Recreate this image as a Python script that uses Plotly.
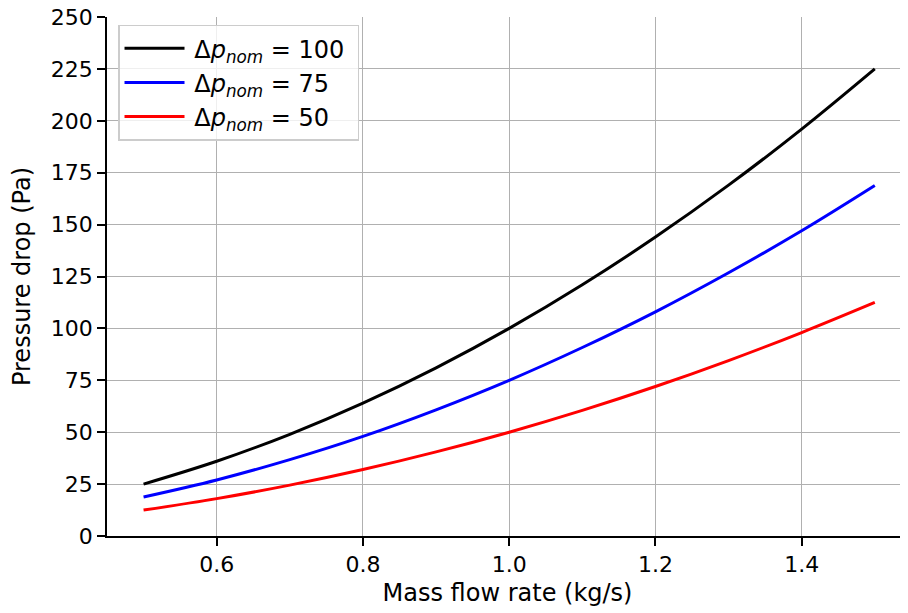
import plotly.graph_objects as go

mass_flow = [0.5, 0.6, 0.7, 0.8, 0.9, 1.0, 1.1, 1.2, 1.3, 1.4, 1.5]
dp_100 = [25, 36, 49, 64, 81, 100, 121, 144, 169, 196, 225]
dp_75 = [18.8, 27, 36.8, 48, 60.8, 75, 90.8, 108, 126.8, 147, 168.8]
dp_50 = [12.5, 18, 24.5, 32, 40.5, 50, 60.5, 72, 84.5, 98, 112.5]
labels = ["\u2009Δ<i>p</i><sub><i>nom</i></sub> = 100\u00a0",
          "\u2009Δ<i>p</i><sub><i>nom</i></sub> = 75",
          "\u2009Δ<i>p</i><sub><i>nom</i></sub> = 50"]
colors = ["#000000", "#0000ff", "#ff0000"]
y_ticks = [0, 25, 50, 75, 100, 125, 150, 175, 200, 225, 250]
x_ticks = [0.6, 0.8, 1.0, 1.2, 1.4]
x_tick_text = ["0.6", "0.8", "1.0", "1.2", "1.4"]

FONT = "DejaVu Sans"
fig = go.Figure()
for i, (ys, name, c) in enumerate(zip([dp_100, dp_75, dp_50], labels, colors)):
    fig.add_trace(go.Scatter(x=mass_flow, y=ys, mode="lines", name=name,
                             legendgroup=f"g{i}",
                             line=dict(color=c, width=3, shape="spline")))

fig.update_layout(
    width=908, height=613,
    margin=dict(l=99, r=8, t=9, b=85, autoexpand=False),
    plot_bgcolor="white", paper_bgcolor="white",
    font=dict(family=FONT, size=22, color="black"),
    showlegend=True,
    legend=dict(x=0.014, y=0.985, xanchor="left", yanchor="top",
                bgcolor="rgba(255,255,255,0.8)", bordercolor="#cccccc", borderwidth=1.3,
                font=dict(family=FONT, size=24), tracegroupgap=0,
                itemwidth=60),
    xaxis=dict(range=[0.45, 1.5454], tickvals=x_ticks, ticktext=x_tick_text,
               showgrid=True, gridcolor="#b0b0b0", gridwidth=1.3,
               ticks="outside", ticklen=8, tickwidth=1.5, tickcolor="black",
               showline=True, linecolor="black", linewidth=1.5, mirror=False,
               zeroline=False, ticklabeloverflow="allow", automargin=False,
               title=dict(text="Mass flow rate (kg/s)", font=dict(size=24), standoff=8)),
    yaxis=dict(range=[0, 250], tickvals=y_ticks,
               showgrid=True, gridcolor="#b0b0b0", gridwidth=1.3,
               ticks="outside", ticklen=8, tickwidth=1.5, tickcolor="black",
               showline=True, linecolor="black", linewidth=1.5,
               zeroline=False, ticklabeloverflow="allow", automargin=False,
               title=dict(text="Pressure drop (Pa)", font=dict(size=24), standoff=16)),
)
fig.write_html("out.html")
